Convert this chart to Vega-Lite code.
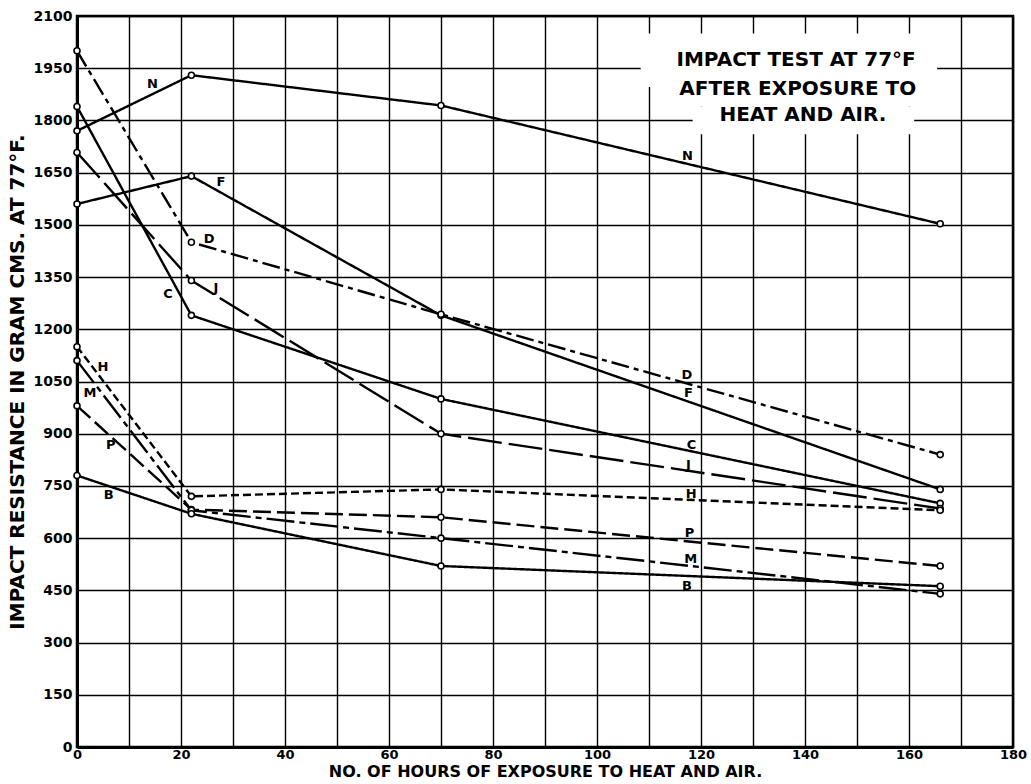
{
  "$schema": "https://vega.github.io/schema/vega-lite/v6.json",
  "autosize": {"type": "none"},
  "padding": {"left": 77, "top": 16, "right": 18, "bottom": 37},
  "width": 936,
  "height": 731,
  "background": "white",
  "config": {
    "font": "DejaVu Sans",
    "view": {"stroke": "black", "strokeWidth": 2.5},
    "axis": {
      "domainColor": "black",
      "domainWidth": 3,
      "gridColor": "black",
      "gridOpacity": 1,
      "gridWidth": 1.4,
      "ticks": false,
      "labelColor": "black",
      "labelFont": "DejaVu Sans",
      "labelFontWeight": "bold",
      "labelFontSize": 14,
      "titleFont": "DejaVu Sans",
      "titleFontWeight": "bold",
      "titleColor": "black",
      "labelOverlap": false,
      "labelFlush": false
    }
  },
  "datasets": {
    "impact": [
      {"series": "N", "hours": 0, "resistance": 1770},
      {"series": "N", "hours": 22, "resistance": 1930},
      {"series": "N", "hours": 70, "resistance": 1843},
      {"series": "N", "hours": 166, "resistance": 1503},
      {"series": "F", "hours": 0, "resistance": 1560},
      {"series": "F", "hours": 22, "resistance": 1640},
      {"series": "F", "hours": 70, "resistance": 1240},
      {"series": "F", "hours": 166, "resistance": 740},
      {"series": "D", "hours": 0, "resistance": 2000},
      {"series": "D", "hours": 22, "resistance": 1450},
      {"series": "D", "hours": 70, "resistance": 1243},
      {"series": "D", "hours": 166, "resistance": 840},
      {"series": "C", "hours": 0, "resistance": 1840},
      {"series": "C", "hours": 22, "resistance": 1240},
      {"series": "C", "hours": 70, "resistance": 1000},
      {"series": "C", "hours": 166, "resistance": 700},
      {"series": "J", "hours": 0, "resistance": 1708},
      {"series": "J", "hours": 22, "resistance": 1340},
      {"series": "J", "hours": 70, "resistance": 900},
      {"series": "J", "hours": 166, "resistance": 685},
      {"series": "H", "hours": 0, "resistance": 1150},
      {"series": "H", "hours": 22, "resistance": 720},
      {"series": "H", "hours": 70, "resistance": 740},
      {"series": "H", "hours": 166, "resistance": 680},
      {"series": "P", "hours": 0, "resistance": 980},
      {"series": "P", "hours": 22, "resistance": 682},
      {"series": "P", "hours": 70, "resistance": 660},
      {"series": "P", "hours": 166, "resistance": 520},
      {"series": "M", "hours": 0, "resistance": 1110},
      {"series": "M", "hours": 22, "resistance": 680},
      {"series": "M", "hours": 70, "resistance": 600},
      {"series": "M", "hours": 166, "resistance": 440},
      {"series": "B", "hours": 0, "resistance": 780},
      {"series": "B", "hours": 22, "resistance": 670},
      {"series": "B", "hours": 70, "resistance": 520},
      {"series": "B", "hours": 166, "resistance": 462}
    ],
    "curveLabels": [
      {"text": "N", "hours": 14.5, "resistance": 1904},
      {"text": "F", "hours": 27.7, "resistance": 1624},
      {"text": "D", "hours": 25.4, "resistance": 1459},
      {"text": "J", "hours": 26.7, "resistance": 1318},
      {"text": "C", "hours": 17.5, "resistance": 1302},
      {"text": "H", "hours": 5.0, "resistance": 1093},
      {"text": "M", "hours": 2.5, "resistance": 1018},
      {"text": "P", "hours": 6.5, "resistance": 867},
      {"text": "B", "hours": 6.1, "resistance": 724},
      {"text": "N", "hours": 117.4, "resistance": 1697},
      {"text": "D", "hours": 117.3, "resistance": 1069},
      {"text": "F", "hours": 117.6, "resistance": 1016},
      {"text": "C", "hours": 118.2, "resistance": 869},
      {"text": "J", "hours": 117.6, "resistance": 809},
      {"text": "H", "hours": 118.1, "resistance": 726},
      {"text": "P", "hours": 117.8, "resistance": 616},
      {"text": "M", "hours": 118.0, "resistance": 539},
      {"text": "B", "hours": 117.3, "resistance": 462}
    ],
    "captionBox": [
      {"hours": 108.4, "hours_end": 165.4, "resistance": 1896, "resistance_end": 2050},
      {"hours": 113, "hours_end": 166, "resistance": 1840, "resistance_end": 1896},
      {"hours": 118.4, "hours_end": 161, "resistance": 1760, "resistance_end": 1840}
    ],
    "caption": [
      {"text": "IMPACT  TEST AT 77°F", "hours": 138.3, "resistance": 1973},
      {"text": "AFTER  EXPOSURE TO", "hours": 138.6, "resistance": 1891},
      {"text": "HEAT AND AIR.", "hours": 139.6, "resistance": 1817}
    ]
  },
  "layer": [
    {
      "data": {"name": "captionBox"},
      "mark": {"type": "rect", "fill": "white", "stroke": null},
      "encoding": {
        "x": {
          "field": "hours",
          "type": "quantitative",
          "scale": {"domain": [0, 180], "nice": false, "zero": false},
          "axis": {
            "title": "NO. OF HOURS OF EXPOSURE TO HEAT AND AIR.",
            "titleFontSize": 16,
            "titlePadding": 2,
            "labelPadding": 1,
            "labelFontSize": 13,
            "values": [0, 10, 20, 30, 40, 50, 60, 70, 80, 90, 100, 110, 120, 130, 140, 150, 160, 170, 180],
            "labelExpr": "datum.value % 20 === 0 ? datum.label : ''",
            "grid": true
          }
        },
        "x2": {"field": "hours_end"},
        "y": {
          "field": "resistance",
          "type": "quantitative",
          "scale": {"domain": [0, 2100], "nice": false},
          "axis": {
            "title": "IMPACT RESISTANCE IN GRAM CMS. AT 77°F.",
            "titleFontSize": 20,
            "titlePadding": 6,
            "labelPadding": 5,
            "values": [0, 150, 300, 450, 600, 750, 900, 1050, 1200, 1350, 1500, 1650, 1800, 1950, 2100],
            "format": "d",
            "grid": true
          }
        },
        "y2": {"field": "resistance_end"}
      }
    },
    {
      "data": {"name": "impact"},
      "mark": {"type": "line", "color": "black", "strokeWidth": 2.4},
      "encoding": {
        "x": {"field": "hours", "type": "quantitative"},
        "y": {"field": "resistance", "type": "quantitative"},
        "strokeDash": {
          "field": "series",
          "type": "nominal",
          "scale": {
            "domain": ["N", "F", "D", "C", "J", "H", "P", "M", "B"],
            "range": [[1, 0], [1, 0], [18, 5, 5, 5], [1, 0], [34, 7], [8, 4], [18, 6], [28, 5, 6, 5], [1, 0]]
          },
          "legend": null
        }
      }
    },
    {
      "data": {"name": "impact"},
      "mark": {"type": "point", "shape": "circle", "filled": false, "fill": "white", "fillOpacity": 1, "stroke": "black", "strokeWidth": 1.6, "size": 36, "opacity": 1},
      "encoding": {
        "x": {"field": "hours", "type": "quantitative"},
        "y": {"field": "resistance", "type": "quantitative"}
      }
    },
    {
      "data": {"name": "curveLabels"},
      "mark": {"type": "text", "font": "DejaVu Sans", "fontWeight": "bold", "fontSize": 13, "color": "black", "align": "center", "baseline": "middle"},
      "encoding": {
        "x": {"field": "hours", "type": "quantitative"},
        "y": {"field": "resistance", "type": "quantitative"},
        "text": {"field": "text"}
      }
    },
    {
      "data": {"name": "caption"},
      "mark": {"type": "text", "font": "DejaVu Sans", "fontWeight": "bold", "fontSize": 20, "color": "black", "align": "center", "baseline": "middle"},
      "encoding": {
        "x": {"field": "hours", "type": "quantitative"},
        "y": {"field": "resistance", "type": "quantitative"},
        "text": {"field": "text"}
      }
    }
  ]
}
